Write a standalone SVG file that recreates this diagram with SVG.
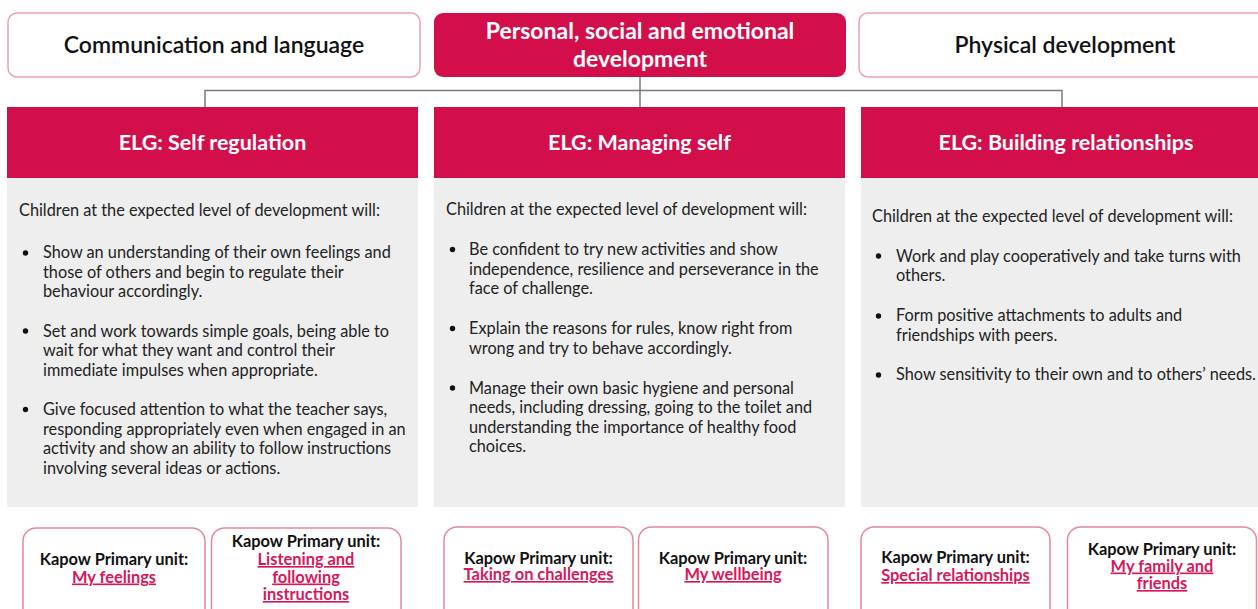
<svg xmlns="http://www.w3.org/2000/svg" width="1258" height="609" viewBox="0 0 1258 609">
  <style>
    .area { fill: #ffffff; stroke: #e9a3b0; stroke-width: 1.5; }
    .area-main { fill: #d30f4b; }
    .area-title { font-family: Lato, "Liberation Sans", sans-serif; font-size: 23px; font-weight: 600; fill: #111111; text-anchor: middle; }
    .area-title-main { font-family: Lato, "Liberation Sans", sans-serif; font-size: 23px; font-weight: 700; fill: #ffffff; text-anchor: middle; }
    .elg-head { fill: #d30f4b; }
    .elg-title { font-family: Lato, "Liberation Sans", sans-serif; font-size: 21.5px; font-weight: 700; fill: #ffffff; text-anchor: middle; }
    .elg-body { fill: #eeeeee; }
    .body { font-family: Lato, "Liberation Sans", sans-serif; font-size: 16.3px; fill: #222222; }
    .dot { fill: #111111; }
    .unit { fill: #ffffff; stroke: #e4899c; stroke-width: 1.5; }
    .unit-label { font-family: Lato, "Liberation Sans", sans-serif; font-size: 16.4px; font-weight: 700; fill: #111111; text-anchor: middle; }
    .unit-link { font-family: Lato, "Liberation Sans", sans-serif; font-size: 16.4px; font-weight: 700; fill: #d6185a; text-anchor: middle; text-decoration: underline; }
    .link { fill: none; stroke: #7a7a7a; stroke-width: 1.5; }
  </style>

  <rect width="1258" height="609" fill="#ffffff"/>

  <!-- connectors from the main area to the three ELG columns -->
  <g id="connectors">
    <path class="link" d="M640 77 V107"/>
    <path class="link" d="M205 107 V90.5 H1062 V107"/>
  </g>

  <!-- area of learning boxes -->
  <g id="area-communication">
    <rect class="area" x="8" y="13" width="412" height="64" rx="9"/>
    <text class="area-title" x="214" y="53">Communication and language</text>
  </g>
  <g id="area-psed">
    <rect class="area-main" x="434" y="13" width="412" height="64" rx="9"/>
    <text class="area-title-main" x="640" y="39">Personal, social and emotional</text>
    <text class="area-title-main" x="640" y="67">development</text>
  </g>
  <g id="area-physical">
    <rect class="area" x="859" y="13" width="412" height="64" rx="9"/>
    <text class="area-title" x="1065" y="53">Physical development</text>
  </g>

  <!-- ELG: Self regulation -->
  <g id="elg-self-regulation">
    <rect class="elg-head" x="7" y="107" width="411" height="71"/>
    <text class="elg-title" x="212.5" y="150">ELG: Self regulation</text>
    <rect class="elg-body" x="7" y="178" width="411" height="329"/>
    <text class="body" x="19" y="216">Children at the expected level of development will:</text>
    <circle class="dot" cx="25.5" cy="253" r="2.7"/>
    <text class="body" x="43">
      <tspan x="43" y="258">Show an understanding of their own feelings and</tspan>
      <tspan x="43" y="277.5">those of others and begin to regulate their</tspan>
      <tspan x="43" y="297">behaviour accordingly.</tspan>
    </text>
    <circle class="dot" cx="25.5" cy="331" r="2.7"/>
    <text class="body">
      <tspan x="43" y="336.5">Set and work towards simple goals, being able to</tspan>
      <tspan x="43" y="356">wait for what they want and control their</tspan>
      <tspan x="43" y="375.5">immediate impulses when appropriate.</tspan>
    </text>
    <circle class="dot" cx="25.5" cy="409.5" r="2.7"/>
    <text class="body">
      <tspan x="43" y="415">Give focused attention to what the teacher says,</tspan>
      <tspan x="43" y="434.5">responding appropriately even when engaged in an</tspan>
      <tspan x="43" y="454">activity and show an ability to follow instructions</tspan>
      <tspan x="43" y="473.5">involving several ideas or actions.</tspan>
    </text>
  </g>

  <!-- ELG: Managing self -->
  <g id="elg-managing-self">
    <rect class="elg-head" x="434" y="107" width="411" height="71"/>
    <text class="elg-title" x="639.5" y="150">ELG: Managing self</text>
    <rect class="elg-body" x="434" y="178" width="411" height="329"/>
    <text class="body" x="446" y="215">Children at the expected level of development will:</text>
    <circle class="dot" cx="452.5" cy="249.5" r="2.7"/>
    <text class="body">
      <tspan x="469" y="255">Be confident to try new activities and show</tspan>
      <tspan x="469" y="274.5">independence, resilience and perseverance in the</tspan>
      <tspan x="469" y="294">face of challenge.</tspan>
    </text>
    <circle class="dot" cx="452.5" cy="328.5" r="2.7"/>
    <text class="body">
      <tspan x="469" y="334">Explain the reasons for rules, know right from</tspan>
      <tspan x="469" y="353.5">wrong and try to behave accordingly.</tspan>
    </text>
    <circle class="dot" cx="452.5" cy="388" r="2.7"/>
    <text class="body">
      <tspan x="469" y="393.5">Manage their own basic hygiene and personal</tspan>
      <tspan x="469" y="413">needs, including dressing, going to the toilet and</tspan>
      <tspan x="469" y="432.5">understanding the importance of healthy food</tspan>
      <tspan x="469" y="452">choices.</tspan>
    </text>
  </g>

  <!-- ELG: Building relationships -->
  <g id="elg-building-relationships">
    <rect class="elg-head" x="861" y="107" width="397" height="71"/>
    <text class="elg-title" x="1066" y="150">ELG: Building relationships</text>
    <rect class="elg-body" x="861" y="178" width="397" height="329"/>
    <text class="body" x="872" y="222">Children at the expected level of development will:</text>
    <circle class="dot" cx="878.5" cy="256" r="2.7"/>
    <text class="body">
      <tspan x="896" y="261.5">Work and play cooperatively and take turns with</tspan>
      <tspan x="896" y="281">others.</tspan>
    </text>
    <circle class="dot" cx="878.5" cy="316" r="2.7"/>
    <text class="body">
      <tspan x="896" y="321">Form positive attachments to adults and</tspan>
      <tspan x="896" y="340.5">friendships with peers.</tspan>
    </text>
    <circle class="dot" cx="878.5" cy="375" r="2.7"/>
    <text class="body" x="896" y="380">Show sensitivity to their own and to others’ needs.</text>
  </g>

  <!-- Kapow Primary unit links -->
  <g id="unit-my-feelings">
    <rect class="unit" x="23" y="528" width="182" height="100" rx="13"/>
    <text class="unit-label" x="114" y="565">Kapow Primary unit:</text>
    <text class="unit-link" x="114" y="582.5">My feelings</text>
  </g>
  <g id="unit-listening">
    <rect class="unit" x="211.5" y="528" width="189.5" height="100" rx="13"/>
    <text class="unit-label" x="306" y="547">Kapow Primary unit:</text>
    <text class="unit-link" x="306" y="565">Listening and</text>
    <text class="unit-link" x="306" y="582.5">following</text>
    <text class="unit-link" x="306" y="600">instructions</text>
  </g>
  <g id="unit-taking-on-challenges">
    <rect class="unit" x="444" y="527" width="189" height="100" rx="13"/>
    <text class="unit-label" x="538.5" y="563.5">Kapow Primary unit:</text>
    <text class="unit-link" x="538.5" y="580">Taking on challenges</text>
  </g>
  <g id="unit-my-wellbeing">
    <rect class="unit" x="638.5" y="527" width="189.5" height="100" rx="13"/>
    <text class="unit-label" x="733" y="563.5">Kapow Primary unit:</text>
    <text class="unit-link" x="733" y="580">My wellbeing</text>
  </g>
  <g id="unit-special-relationships">
    <rect class="unit" x="861" y="527" width="189" height="100" rx="13"/>
    <text class="unit-label" x="955.5" y="562.5">Kapow Primary unit:</text>
    <text class="unit-link" x="955.5" y="581">Special relationships</text>
  </g>
  <g id="unit-my-family">
    <rect class="unit" x="1067.5" y="527" width="189" height="100" rx="13"/>
    <text class="unit-label" x="1162" y="554.5">Kapow Primary unit:</text>
    <text class="unit-link" x="1162" y="571.5">My family and</text>
    <text class="unit-link" x="1162" y="589">friends</text>
  </g>
</svg>
